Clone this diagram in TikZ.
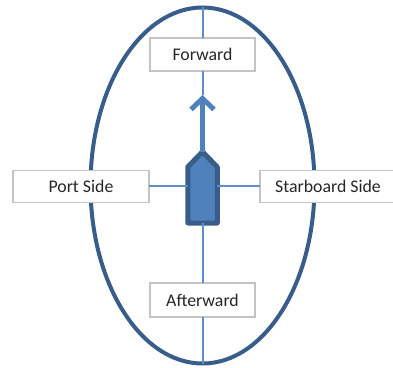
\documentclass[tikz,border=0pt]{standalone}
\usepackage{fontspec}
\setmainfont{Carlito}
\usetikzlibrary{arrows.meta,shapes.geometric,shapes.symbols}
\definecolor{hullline}{HTML}{385D8A}
\definecolor{hullfill}{HTML}{4F81BD}
\definecolor{axisline}{HTML}{5F8FC8}
\definecolor{boxline}{HTML}{C4C4C4}
\definecolor{labeltext}{HTML}{262626}
\tikzset{
  dirbox/.style={draw=boxline, line width=1.5pt, fill=white, text=labeltext, font=\fontsize{17.8}{20}\selectfont,
                 inner sep=0pt, outer sep=0pt, minimum width=#1},
  dirbox/.default=105pt,
  axis/.style={draw=axisline, line width=2pt}
}
\begin{document}
\begin{tikzpicture}[x=1pt,y=1pt]
              \useasboundingbox (0,0) rectangle (393,367);
              \node (ring) [ellipse, draw=hullline, line width=4pt, inner sep=0pt, outer sep=0pt, minimum width=224pt, minimum height=356pt] at (202.5,181.5) {};
              \node (forward)   [dirbox, minimum height=33pt] at (202.5,312.5) {Forward};
              \node (afterward) [dirbox, minimum height=34pt] at (202.5,67) {Afterward};
              \node (port)      [dirbox=136pt, minimum height=32pt] at (81,180.5) {Port Side};
              \node (starboard) [dirbox=136pt, minimum height=32pt] at (328,180.5) {Starboard Side};
              \node (boat) [signal, signal to=north, signal pointer angle=88, draw=hullline, fill=hullfill, line width=5pt, line join=round,
                            inner sep=0pt, outer sep=0pt, minimum width=29.5pt, minimum height=56pt] at (202.5,172) {};
              \coordinate (head) at (202.5,272);
              \draw [axis] (ring.north) -- (forward);
              \draw [axis] (forward) -- (head);
              \draw [axis] (port.east) -- (port.east -| boat.west);
              \draw [axis] (boat.east |- starboard.west) -- (starboard.west);
              \draw [axis] (boat.south) -- (afterward);
              \draw [axis] (afterward) -- (ring.south);
              \draw [hullfill, line width=5pt, -{Straight Barb[length=11pt,width=23pt,line width=5pt]}] (boat.north) -- (head);
            \end{tikzpicture}
\end{document}
